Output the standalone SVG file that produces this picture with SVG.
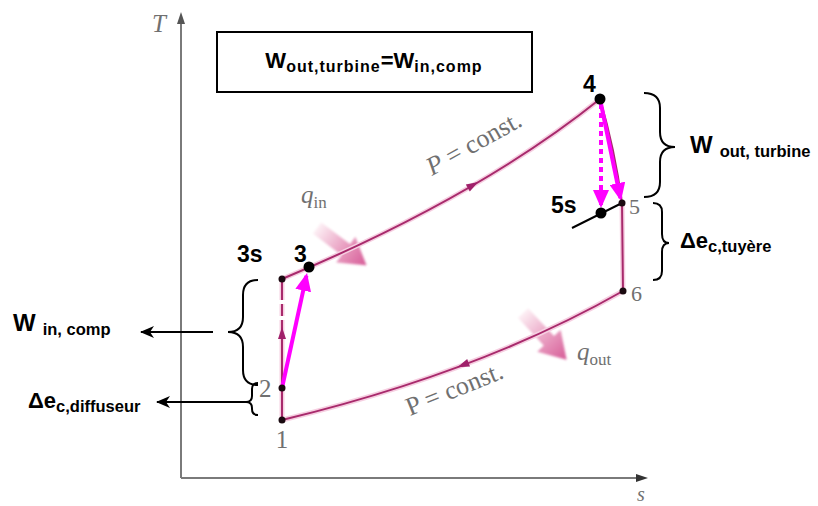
<svg xmlns="http://www.w3.org/2000/svg" width="818" height="506" viewBox="0 0 818 506">
<style>
.axis{stroke:#7a7a7a;stroke-width:2;fill:none}
.glow{stroke:#f6cfe1;stroke-width:5;fill:none;stroke-linecap:round}
.cyc{stroke:#a82a6c;stroke-width:2;fill:none}
.mag{stroke:#ff00ff;stroke-width:4;fill:none}
.brace{stroke:#000;stroke-width:2;fill:none}
.blk{stroke:#000;stroke-width:2;fill:none}
.bold{font-family:"Liberation Sans",Arial,sans-serif;font-weight:bold;fill:#000}
.ser{font-family:"Liberation Serif","Times New Roman",serif;fill:#707070}
.it{font-style:italic}
.dot{fill:#000}
.sdot{fill:#1a0a10}
.mark{fill:#a0206a}
</style>
<defs>
<marker id="mh" markerUnits="userSpaceOnUse" markerWidth="18" markerHeight="16" refX="15" refY="8" orient="auto" viewBox="0 0 18 16">
<path d="M0,0 L18,8 L0,16 z" fill="#ff00ff"/>
</marker>
<marker id="bh" markerUnits="userSpaceOnUse" markerWidth="14" markerHeight="12" refX="13" refY="6" orient="auto" viewBox="0 0 14 12">
<path d="M14,6 L0,0 L4,6 L0,12 z" fill="#000"/>
</marker>
<linearGradient id="qg" x1="0" y1="0" x2="1" y2="0">
<stop offset="0" stop-color="#fdf0f5"/>
<stop offset="0.5" stop-color="#eaa3c4"/>
<stop offset="1" stop-color="#d65a96"/>
</linearGradient>
<filter id="soft" x="-20%" y="-20%" width="140%" height="140%"><feGaussianBlur stdDeviation="1.2"/></filter>
</defs>

<g id="axes">
<line class="axis" x1="181" y1="478" x2="181" y2="20"/>
<path d="M181,12 L177,24 L185,24 z" fill="#555"/>
<line class="axis" x1="181" y1="478" x2="640" y2="478"/>
<path d="M648,478 L636,474 L636,482 z" fill="#333"/>
<text class="ser it" x="152" y="32" font-size="25">T</text>
<text class="ser it" x="637" y="501" font-size="20">s</text>
</g>

<g id="title-box">
<rect x="217" y="32" width="315" height="60" fill="#fff" stroke="#000" stroke-width="2"/>
<text class="bold" x="374" y="68" text-anchor="middle"><tspan font-size="22">W</tspan><tspan font-size="16" dy="4" letter-spacing="1">out,turbine</tspan><tspan font-size="22" dy="-4">=W</tspan><tspan font-size="16" dy="4" letter-spacing="1">in,comp</tspan></text>
</g>

<g id="heat">
<g id="q-in">
<g transform="translate(317,228) rotate(37)" filter="url(#soft)">
<path d="M0,-7 L36,-7 L36,-16 L62,0 L36,16 L36,7 L0,7 z" fill="url(#qg)"/>
</g>
<text class="ser" x="301" y="203" font-size="25"><tspan class="it">q</tspan><tspan font-size="17" dy="5">in</tspan></text>
</g>
<g id="q-out">
<g transform="translate(523,313) rotate(47)" filter="url(#soft)">
<path d="M0,-7 L38,-7 L38,-16 L64,0 L38,16 L38,7 L0,7 z" fill="url(#qg)"/>
</g>
<text class="ser" x="577" y="360" font-size="25"><tspan class="it">q</tspan><tspan font-size="17" dy="5">out</tspan></text>
</g>
</g>

<g id="connectors">
<path class="glow" d="M282,279 Q478,197 600,99"/>
<path class="glow" d="M282,420 L282,279"/>
<path class="glow" d="M623,291 Q481,372 282,420"/>
<path class="glow" d="M622,203 L623,291"/>
<path class="cyc" d="M282,279 Q478,197 600,99"/>
<path class="cyc" d="M282,420 L282,279"/>
<path class="cyc" d="M623,291 Q481,372 282,420"/>
<path class="cyc" d="M600,99 Q615,150 622,203 L623,291"/>
<path class="mark" d="M-6,-4 L6,0 L-6,4 z" transform="translate(473,185) rotate(-30)"/>
<path class="mark" d="M-6,-4 L6,0 L-6,4 z" transform="translate(282,333) rotate(-90)"/>
<path class="mark" d="M-6,-4 L6,0 L-6,4 z" transform="translate(463,365) rotate(159)"/>
<rect x="265" y="300" width="25" height="4" fill="#fff"/>
<rect x="265" y="316" width="25" height="4" fill="#fff"/>
<line class="blk" x1="572" y1="228" x2="622" y2="203" stroke-width="1.6"/>
<line class="mag" x1="282" y1="388" x2="306.4" y2="275.9" marker-end="url(#mh)"/>
<line class="mag" x1="600" y1="99" x2="620.4" y2="198" marker-end="url(#mh)"/>
<line class="mag" x1="601" y1="104" x2="601" y2="205" stroke-dasharray="5,4" marker-end="url(#mh)"/>
<text class="ser" x="432" y="176" font-size="26" transform="rotate(-29 432 176)"><tspan class="it">P</tspan> = const.</text>
<text class="ser" x="410" y="416" font-size="26" transform="rotate(-22 410 416)">P = const.</text>
</g>

<g id="state-1">
<circle class="sdot" cx="282" cy="420" r="3.5"/>
<text class="ser" x="282" y="448" font-size="25" text-anchor="middle">1</text>
</g>
<g id="state-2">
<circle class="sdot" cx="282" cy="388" r="3.5"/>
<text class="ser" x="259" y="397" font-size="25">2</text>
</g>
<g id="state-3s">
<circle class="sdot" cx="282" cy="279" r="3.5"/>
<text class="bold" x="237" y="262" font-size="23">3s</text>
</g>
<g id="state-3">
<circle class="dot" cx="309" cy="267" r="5.5"/>
<text class="bold" x="294" y="262" font-size="23">3</text>
</g>
<g id="state-4">
<circle class="dot" cx="600" cy="99" r="5.5"/>
<text class="bold" x="583" y="92" font-size="23">4</text>
</g>
<g id="state-5s">
<circle class="dot" cx="601" cy="213" r="5.5"/>
<text class="bold" x="551" y="213" font-size="23">5s</text>
</g>
<g id="state-5">
<circle class="sdot" cx="622" cy="203" r="3.5"/>
<text class="ser" x="629" y="214" font-size="22">5</text>
</g>
<g id="state-6">
<circle class="sdot" cx="623" cy="291" r="3.5"/>
<text class="ser" x="631" y="301" font-size="22">6</text>
</g>

<g id="w-out-turbine">
<path class="brace" d="M644,93 Q660,93 660,108 L660,132 Q660,147 675,147 Q660,147 660,162 L660,182 Q660,197 644,197"/>
<text class="bold" x="690" y="153"><tspan font-size="24">W</tspan><tspan font-size="16.5" dx="7" dy="4">out, turbine</tspan></text>
</g>
<g id="de-tuyere">
<path class="brace" d="M653,203 Q662,203 662,212 L662,234 Q662,243 669,243 Q662,243 662,252 L662,271 Q662,280 653,280"/>
<text class="bold" x="680" y="248"><tspan font-size="22">Δe</tspan><tspan font-size="16.5" dy="4">c,tuyère</tspan></text>
</g>
<g id="w-in-comp">
<path class="brace" d="M258,280 Q243,280 243,295 L243,317 Q243,332 228,332 Q243,332 243,347 L243,370 Q243,385 258,385"/>
<line class="blk" x1="213" y1="332" x2="141" y2="332" marker-end="url(#bh)"/>
<text class="bold" x="13" y="331"><tspan font-size="24">W</tspan><tspan font-size="16.5" dx="7" dy="4">in, comp</tspan></text>
</g>
<g id="de-diffuseur">
<path class="brace" d="M258,383 Q252,383 252,389 L252,396 Q252,402 246,402 Q252,402 252,408 L252,409 Q252,415 258,415"/>
<line class="blk" x1="246" y1="402" x2="157" y2="402" marker-end="url(#bh)"/>
<text class="bold" x="28" y="408"><tspan font-size="22">Δe</tspan><tspan font-size="16.5" dy="4">c,diffuseur</tspan></text>
</g>
</svg>
